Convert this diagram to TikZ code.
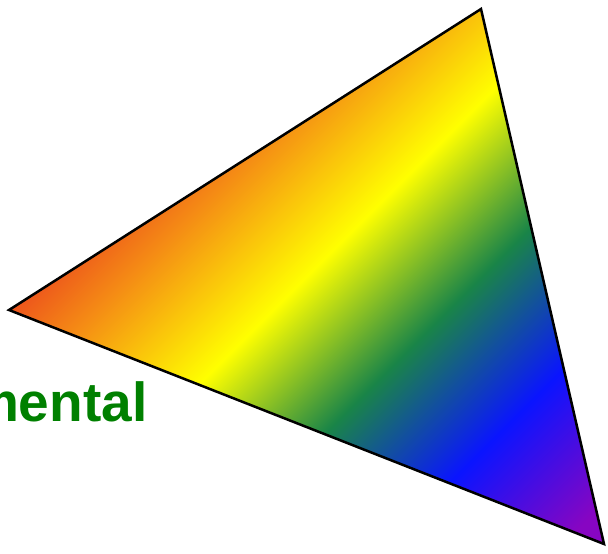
\documentclass[tikz,border=0pt]{standalone}
\usepackage{fontspec}
\setmainfont{Liberation Sans}
\usetikzlibrary{positioning}

\definecolor{labelgreen}{RGB}{0,128,0}
\pgfdeclarehorizontalshading{rainbow}{100bp}{%
  rgb(0bp)=(0.90,0.12,0.14);
  rgb(28bp)=(0.90,0.12,0.14);
  rgb(39bp)=(0.96,0.55,0.08);
  rgb(50bp)=(1,1,0);
  rgb(61bp)=(0.10,0.52,0.28);
  rgb(72bp)=(0.04,0.08,1);
  rgb(83bp)=(0.53,0.02,0.76);
  rgb(100bp)=(0.53,0.02,0.76)}

\begin{document}
\begin{tikzpicture}[
        x=1pt, y=-1pt,
        edge/.style={draw=black, line width=2.5pt, line join=miter},
        rainbowfill/.style={shading=rainbow, shading angle=-45},
        label/.style={font=\fontsize{55}{60}\selectfont\bfseries, text=labelgreen, inner sep=0pt, anchor=base east}
    ]
    \clip (0,0) rectangle (608,554);

    % Triangle corners
    \coordinate (top) at (481,9);
    \coordinate (left) at (9,310);
    \coordinate (right) at (604,544);

    % Shaded face
    \shade[rainbowfill] (top) -- (left) -- (right) -- cycle;
    \draw[edge] (top) -- (left) -- (right) -- cycle;

    % Cut-off label
    \node[label] (word) at (147.5,421.7) {mental};

\end{tikzpicture}
\end{document}
